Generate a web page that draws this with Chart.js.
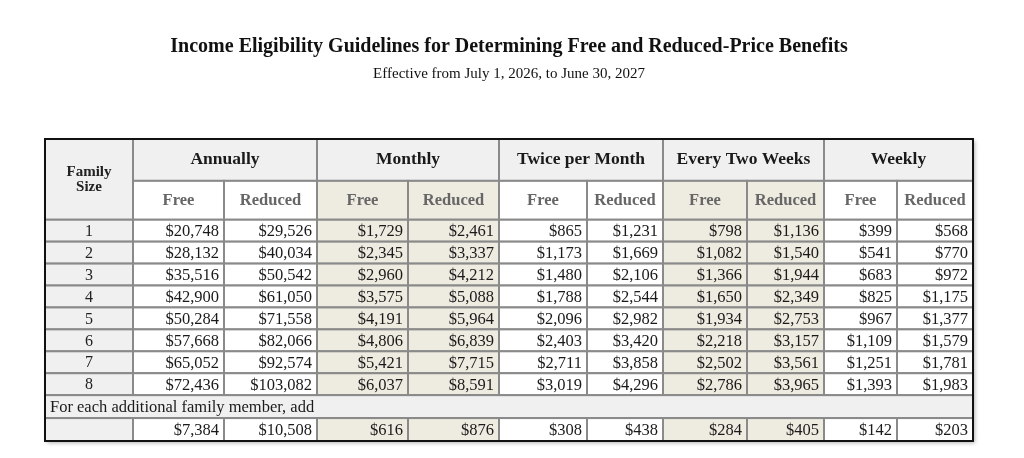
<!DOCTYPE html>
<html>
<head>
<meta charset="utf-8">
<script src="https://cdn.jsdelivr.net/npm/chart.js@4.4.1/dist/chart.umd.min.js"></script>
<style>
    html, body { margin: 0; padding: 0; background: #fff; }
    #wrap { width: 1024px; height: 458px; position: relative; }
</style>
</head>
<body>
<div id="wrap"><canvas id="income-chart"></canvas></div>
<script>
const familySizes = ['1', '2', '3', '4', '5', '6', '7', '8'];
const annuallyFree = [20748, 28132, 35516, 42900, 50284, 57668, 65052, 72436];
const annuallyReduced = [29526, 40034, 50542, 61050, 71558, 82066, 92574, 103082];
const monthlyFree = [1729, 2345, 2960, 3575, 4191, 4806, 5421, 6037];
const monthlyReduced = [2461, 3337, 4212, 5088, 5964, 6839, 7715, 8591];
const twiceFree = [865, 1173, 1480, 1788, 2096, 2403, 2711, 3019];
const twiceReduced = [1231, 1669, 2106, 2544, 2982, 3420, 3858, 4296];
const biweeklyFree = [798, 1082, 1366, 1650, 1934, 2218, 2502, 2786];
const biweeklyReduced = [1136, 1540, 1944, 2349, 2753, 3157, 3561, 3965];
const weeklyFree = [399, 541, 683, 825, 967, 1109, 1251, 1393];
const weeklyReduced = [568, 770, 972, 1175, 1377, 1579, 1781, 1983];
const additionalMember = [7384, 10508, 616, 876, 308, 438, 284, 405, 142, 203];
const groups = ['Annually', 'Monthly', 'Twice per Month', 'Every Two Weeks', 'Weekly'];
const subHeads = ['Free', 'Reduced'];
const firstHead = ['Family', 'Size'];
const additionalLabel = 'For each additional family member, add';

const columns = [annuallyFree, annuallyReduced, monthlyFree, monthlyReduced, twiceFree,
    twiceReduced, biweeklyFree, biweeklyReduced, weeklyFree, weeklyReduced];

// layout (table units = px)
const colWidths = [88, 91, 93, 91, 91, 88, 76, 84, 77, 73, 76];
const rowHeights = [42, 39, 22, 22, 22, 22, 22, 22, 22, 22, 23, 23];
const colEdges = [0];
colWidths.forEach(w => colEdges.push(colEdges[colEdges.length - 1] + w));
const rowEdges = [0];
rowHeights.forEach(h => rowEdges.push(rowEdges[rowEdges.length - 1] + h));

const GREY = '#f0f0f0';
const BEIGE = '#eeebe0';
const LINE = '#8a8a8a';
const FONT = "'Liberation Serif', 'DejaVu Serif', serif";

const money = v => '$' + v.toLocaleString('en-US');
const colFill = c => {
    if (c === 0) return GREY;
    const g = Math.floor((c - 1) / 2);
    return (g === 1 || g === 3) ? BEIGE : '#ffffff';
};

const tablePlugin = {
    id: 'incomeTable',
    beforeDatasetsDraw(chart) {
        const { ctx, scales: { x, y } } = chart;
        const box = (c0, c1, r0, r1) => {
            const x0 = x.getPixelForValue(colEdges[c0]);
            const x1 = x.getPixelForValue(colEdges[c1]);
            const y0 = y.getPixelForValue(rowEdges[r0]);
            const y1 = y.getPixelForValue(rowEdges[r1]);
            return { x0, y0, x1, y1, w: x1 - x0, h: y1 - y0 };
        };
        const cell = (c0, c1, r0, r1, fill) => {
            const b = box(c0, c1, r0, r1);
            ctx.fillStyle = fill;
            ctx.fillRect(b.x0, b.y0, b.w, b.h);
            ctx.strokeStyle = LINE;
            ctx.lineWidth = 2;
            ctx.strokeRect(b.x0, b.y0, b.w, b.h);
            return b;
        };
        const text = (str, px, py, align, font, color) => {
            ctx.font = font;
            ctx.fillStyle = color;
            ctx.textAlign = align;
            ctx.textBaseline = 'middle';
            ctx.fillText(str, px, py);
        };

        ctx.save();
        const all = box(0, colWidths.length, 0, rowHeights.length);
        // soft shadow under table
        ctx.shadowColor = 'rgba(0,0,0,0.3)';
        ctx.shadowBlur = 4;
        ctx.shadowOffsetX = 2;
        ctx.shadowOffsetY = 2;
        ctx.fillStyle = '#fff';
        ctx.fillRect(all.x0, all.y0, all.w, all.h);
        ctx.shadowColor = 'transparent';

        // header: family size
        let b = cell(0, 1, 0, 2, GREY);
        text(firstHead[0], (b.x0 + b.x1) / 2, b.y0 + b.h / 2 - 7, 'center', `bold 15px ${FONT}`, '#222');
        text(firstHead[1], (b.x0 + b.x1) / 2, b.y0 + b.h / 2 + 8, 'center', `bold 15px ${FONT}`, '#222');

        // group headers and sub headers
        groups.forEach((g, i) => {
            const c = 1 + i * 2;
            b = cell(c, c + 2, 0, 1, GREY);
            text(g, (b.x0 + b.x1) / 2, (b.y0 + b.y1) / 2, 'center', `bold 17.5px ${FONT}`, '#1a1a1a');
            subHeads.forEach((s, k) => {
                b = cell(c + k, c + k + 1, 1, 2, colFill(c + k));
                text(s, (b.x0 + b.x1) / 2, (b.y0 + b.y1) / 2, 'center', `bold 16.5px ${FONT}`, '#666');
            });
        });

        // data rows
        familySizes.forEach((f, r) => {
            const row = r + 2;
            b = cell(0, 1, row, row + 1, GREY);
            text(f, (b.x0 + b.x1) / 2, (b.y0 + b.y1) / 2 + 1, 'center', `16px ${FONT}`, '#222');
            columns.forEach((arr, c) => {
                b = cell(c + 1, c + 2, row, row + 1, colFill(c + 1));
                text(money(arr[r]), b.x1 - 5, (b.y0 + b.y1) / 2 + 1, 'right', `16.5px ${FONT}`, '#1a1a1a');
            });
        });

        // additional member rows
        const addRow = familySizes.length + 2;
        b = cell(0, colWidths.length, addRow, addRow + 1, GREY);
        text(additionalLabel, b.x0 + 5, (b.y0 + b.y1) / 2 + 1, 'left', `16.5px ${FONT}`, '#1a1a1a');
        cell(0, 1, addRow + 1, addRow + 2, GREY);
        additionalMember.forEach((v, c) => {
            b = cell(c + 1, c + 2, addRow + 1, addRow + 2, colFill(c + 1));
            text(money(v), b.x1 - 5, (b.y0 + b.y1) / 2 + 1, 'right', `16.5px ${FONT}`, '#1a1a1a');
        });

        // outer border
        ctx.strokeStyle = '#111';
        ctx.lineWidth = 2;
        ctx.strokeRect(all.x0, all.y0, all.w, all.h);
        ctx.restore();
    }
};

const ctxTable = document.getElementById('income-chart').getContext('2d');
const incomeChart = new Chart(ctxTable, {
    type: 'scatter',
    data: { datasets: [{ data: [], pointRadius: 0 }] },
    options: {
        responsive: true,
        maintainAspectRatio: false,
        animation: false,
        events: [],
        layout: { padding: { left: 45, right: 51, top: 0, bottom: 17 } },
        scales: {
            x: { type: 'linear', min: 0, max: colEdges[colEdges.length - 1], display: false },
            y: { type: 'linear', min: 0, max: rowEdges[rowEdges.length - 1], reverse: true, display: false }
        },
        plugins: {
            legend: { display: false },
            tooltip: { enabled: false },
            title: {
                display: true,
                text: 'Income Eligibility Guidelines for Determining Free and Reduced-Price Benefits',
                color: '#111',
                font: { family: FONT, size: 20, weight: 'bold', lineHeight: 1.2 },
                padding: { top: 35, bottom: 6 }
            },
            subtitle: {
                display: true,
                text: 'Effective from July 1, 2026, to June 30, 2027',
                color: '#111',
                font: { family: FONT, size: 15, weight: 'normal', lineHeight: 1.2 },
                padding: { top: 0, bottom: 56 }
            }
        }
    },
    plugins: [tablePlugin]
});
</script>
</body>
</html>
